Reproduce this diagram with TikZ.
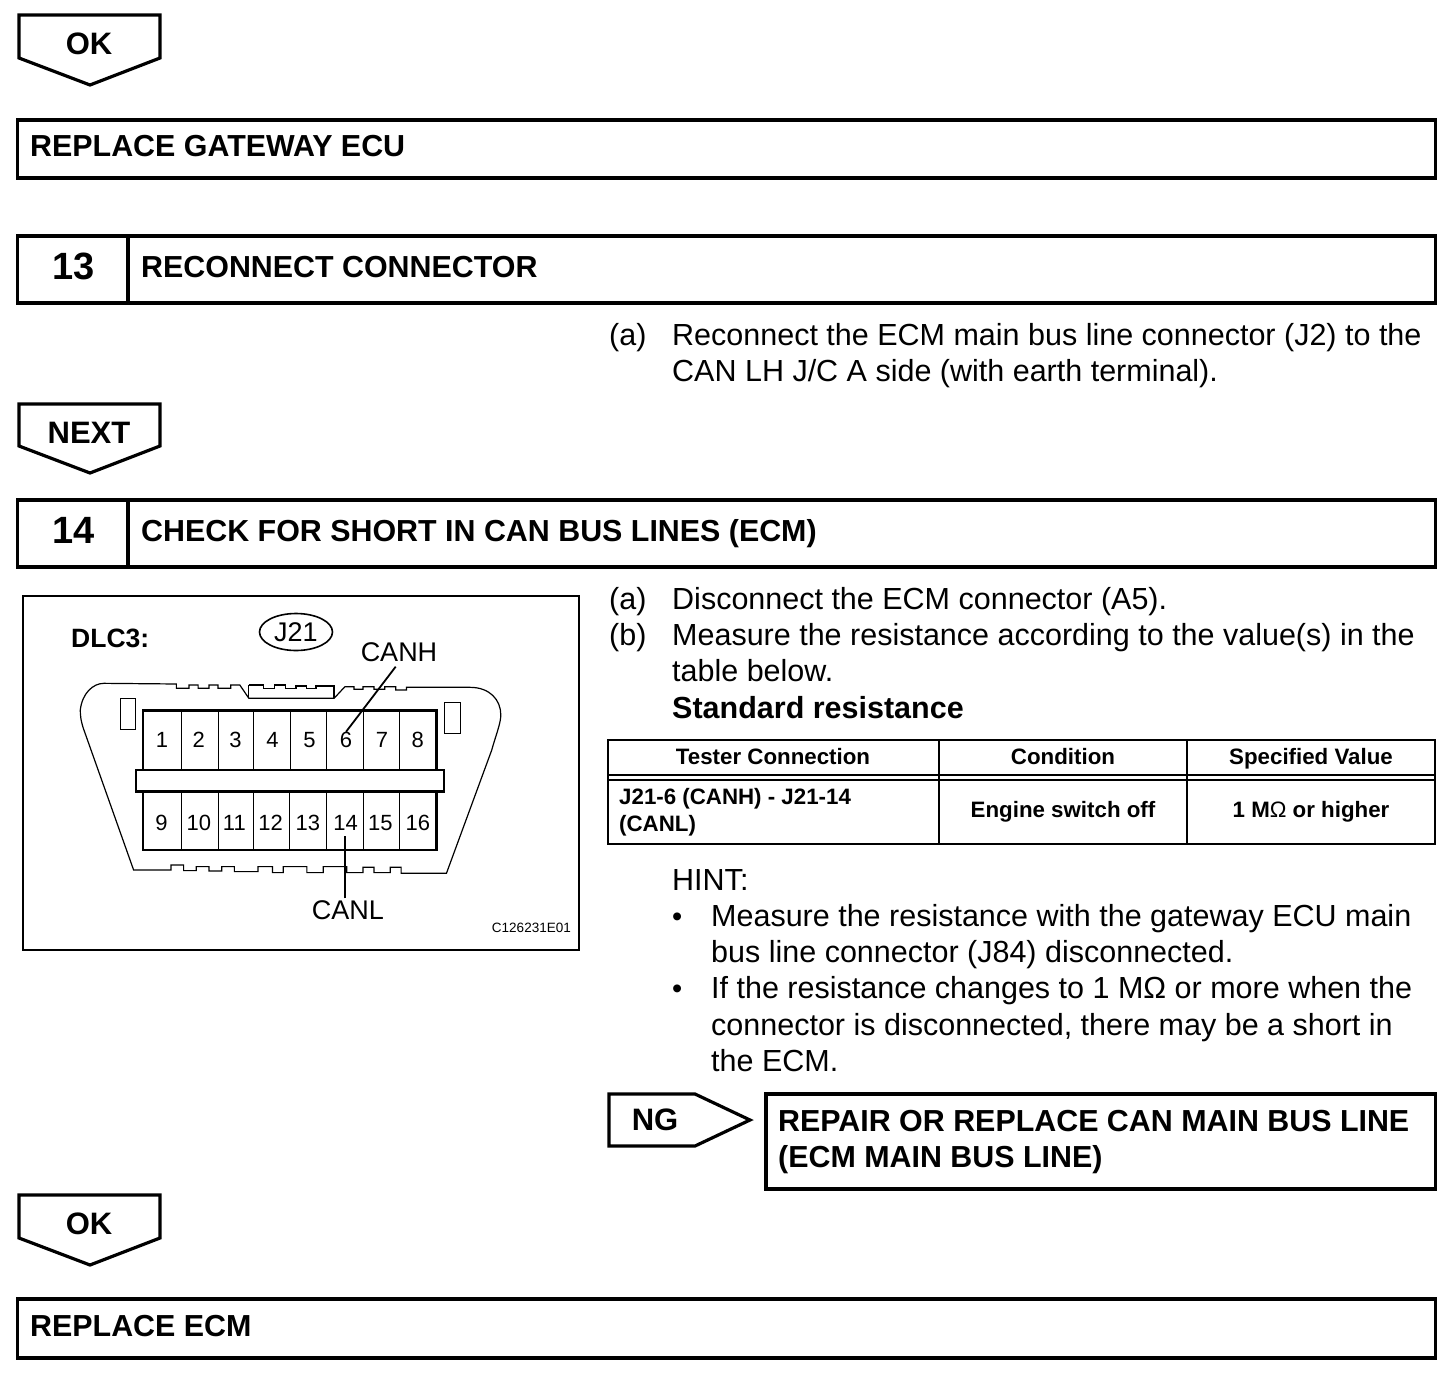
\documentclass[tikz,border=0pt]{standalone}
\usepackage{fontspec}
\setmainfont{Liberation Sans}
\usetikzlibrary{shapes.geometric}
\newcommand{\fsz}[1]{\fontsize{#1}{#1}\selectfont}
\tikzset{
  box/.style={draw=black,line width=3.2pt,fill=white},
  thin box/.style={draw=black,line width=2pt},
  title/.style={anchor=base west,inner sep=0pt,font=\fsz{30.4}\bfseries},
  body/.style={anchor=base west,inner sep=0pt,font=\fsz{30.5}},
  cell/.style={anchor=base,inner sep=0pt,font=\fsz{22.3}\bfseries},
  pinlabel/.style={inner sep=0pt,font=\fsz{22},text height=16pt,text depth=0pt},
  shell/.style={draw=black,line width=1.2pt},
  pin/.style={draw=black,line width=1pt},
  pinedge/.style={draw=black,line width=2.4pt}
}
\begin{document}
\begin{tikzpicture}[x=1pt,y=-1pt,line join=miter]
\useasboundingbox (0,0) rectangle (1456,1376);
% arrows
\draw[box] (19,15) -- (160,15) -- (160,58) -- (90,85) -- (19,58) -- cycle;
\node[anchor=base,inner sep=0pt,font=\fsz{31}\bfseries] (ok1) at (89,54) {OK};
\draw[box] (19,404) -- (160,404) -- (160,446) -- (90,473) -- (19,446) -- cycle;
\node[anchor=base,inner sep=0pt,font=\fsz{31}\bfseries] (next) at (89,443) {NEXT};
\draw[box] (19,1195) -- (160,1195) -- (160,1238) -- (90,1265) -- (19,1238) -- cycle;
\node[anchor=base,inner sep=0pt,font=\fsz{31}\bfseries] (ok2) at (89,1234) {OK};
% bars
\draw[box] (17.5,120) rectangle (1435.5,178);
\node[title] (t1) at (30,156) {REPLACE GATEWAY ECU};
\draw[box] (17.5,236) rectangle (1435.5,303);
\draw[box] (128,236) -- (128,303);
\node[anchor=base,inner sep=0pt,font=\fsz{38}\bfseries] (n13) at (74,279) {13};
\node[title] (t13) at (141,277) {RECONNECT CONNECTOR};
\draw[box] (17.5,500) rectangle (1435.5,567);
\draw[box] (128,500) -- (128,567);
\node[anchor=base,inner sep=0pt,font=\fsz{38}\bfseries] (n14) at (74,543) {14};
\node[title] (t14) at (141,541) {CHECK FOR SHORT IN CAN BUS LINES (ECM)};
\draw[box] (17.5,1299) rectangle (1435.5,1358);
\node[title] (t2) at (30,1336) {REPLACE ECM};
% body text
\node[body] (a1) at (609,345) {(a)};
\node[body] (a1t) at (672,345) {Reconnect the ECM main bus line connector (J2) to the};
\node[body] (a1u) at (672,381) {CAN LH J/C A side (with earth terminal).};
\node[body] (a2) at (609,609) {(a)};
\node[body] (a2t) at (672,609) {Disconnect the ECM connector (A5).};
\node[body] (b2) at (609,645) {(b)};
\node[body] (b2t) at (672,645) {Measure the resistance according to the value(s) in the};
\node[body] (b2u) at (672,681) {table below.};
\node[body,font=\fsz{30.5}\bfseries] (std) at (672,718) {Standard resistance};
% table
\draw[thin box] (608,740) rectangle (1435,844);
\draw[draw=black,line width=2pt] (608,775) -- (1435,775);
\draw[draw=black,line width=2pt] (608,780) -- (1435,780);
\draw[thin box] (939,740) -- (939,844);
\draw[thin box] (1187,740) -- (1187,844);
\node[cell] (h1) at (773,764) {Tester Connection};
\node[cell] (h2) at (1063,764) {Condition};
\node[cell] (h3) at (1311,764) {Specified Value};
\node[cell,anchor=base west] (c1) at (619,804) {J21-6 (CANH) - J21-14};
\node[cell,anchor=base west] (c1b) at (619,831) {(CANL)};
\node[cell] (c2) at (1063,817) {Engine switch off};
\node[cell] (c3) at (1311,817) {1 M{\mdseries Ω} or higher};
% hint
\node[body] (hint) at (672,890) {HINT:};
\node[body,font=\fsz{29}] (bu1) at (672,926) {•};
\node[body] (l1) at (711,926) {Measure the resistance with the gateway ECU main};
\node[body] (l2) at (711,962) {bus line connector (J84) disconnected.};
\node[body,font=\fsz{29}] (bu2) at (672,998) {•};
\node[body] (l3) at (711,998) {If the resistance changes to 1 MΩ or more when the};
\node[body] (l4) at (711,1035) {connector is disconnected, there may be a short in};
\node[body] (l5) at (711,1071) {the ECM.};
% NG
\draw[box] (609,1094) -- (695,1094) -- (750,1120) -- (695,1146) -- (609,1146) -- cycle;
\node[anchor=base,inner sep=0pt,font=\fsz{31}\bfseries] (ng) at (655,1130) {NG};
\draw[box] (766,1094) rectangle (1435.5,1189);
\node[title] (r1) at (778,1131) {REPAIR OR REPLACE CAN MAIN BUS LINE};
\node[title] (r2) at (778,1167) {(ECM MAIN BUS LINE)};
% figure
\draw[thin box] (23,596) rectangle (579,950);
\node[anchor=base west,inner sep=0pt,font=\fsz{26.5}\bfseries] (dlc) at (71,647) {DLC3:};
\node[ellipse,draw=black,line width=1.6pt,minimum width=73pt,minimum height=37pt,inner sep=0pt] (j21e) at (296,632) {};
\node[inner sep=0pt,font=\fsz{27}] (j21) at (296,632) {J21};
\node[inner sep=0pt,font=\fsz{27}] (canh) at (399,652) {CANH};
\node[inner sep=0pt,font=\fsz{27}] (canl) at (348,910) {CANL};
\node[anchor=east,inner sep=0pt,font=\fsz{13.5}] (code) at (571,928) {C126231E01};
\begin{scope}[shift={(20.5,590)},x=0.3625pt,y=-0.3333pt]
  \draw[shell] (230,280) -- (430,282) -- (430,295) -- (465,295) -- (465,285) -- (490,285) -- (490,295) -- (520,295) -- (520,285) -- (545,285) -- (545,295) -- (580,295) -- (580,285) -- (605,285) -- (630,325) -- (865,325) -- (895,290) -- (920,290) -- (920,298) -- (945,298) -- (945,290) -- (975,290) -- (975,298) -- (1005,298) -- (1005,290) -- (1035,290) -- (1035,300) -- (1065,300) -- (1065,292) -- (1240,292) .. controls (1295,292) and (1325,330) .. (1325,375) .. controls (1325,400) and (1310,440) .. (1300,480) -- (1175,850) -- (1080,850) -- (1050,850) -- (1050,832) -- (1020,832) -- (1020,848) -- (1005,848) -- (975,848) -- (975,832) -- (945,832) -- (945,848) -- (900,848) -- (900,830) -- (835,830) -- (835,848) -- (790,848) -- (790,830) -- (725,830) -- (725,848) -- (695,848) -- (695,830) -- (655,830) -- (655,845) -- (590,845) -- (590,830) -- (555,830) -- (555,843) -- (520,843) -- (520,830) -- (485,830) -- (485,842) -- (450,842) -- (450,825) -- (415,825) -- (415,840) -- (312,840) -- (175,420) .. controls (165,390) and (165,370) .. (165,360) .. controls (170,310) and (200,280) .. (230,280) -- cycle;
  \draw[shell] (630,285) -- (630,325);
  \draw[shell] (630,285) -- (670,285) -- (670,295) -- (700,295) -- (700,285) -- (730,285) -- (730,295) -- (760,295) -- (760,288) -- (790,288) -- (790,295) -- (815,295) -- (815,288) -- (865,288) -- (865,325);
  \draw[line width=1pt] (275,327) rectangle (317,420);
  \draw[line width=1pt] (1170,338) rectangle (1215,432);
  \draw[pin,fill=white] (338,362) rectangle (1148,780);
  \foreach \xx in {445,547,643,745,843,945,1045} \draw[pin] (\xx,362) -- (\xx,540);
  \foreach \xx in {443,545,643,743,843,945,1045} \draw[pin] (\xx,605) -- (\xx,780);
  \draw[pinedge] (338,362) rectangle (1148,780);
  \draw[pinedge,fill=white] (318,540) rectangle (1168,605);
  \node[pinlabel] (p1) at (390,450) {1};
  \node[pinlabel] (p2) at (492,450) {2};
  \node[pinlabel] (p3) at (593,450) {3};
  \node[pinlabel] (p4) at (695,450) {4};
  \node[pinlabel] (p5) at (797,450) {5};
  \node[pinlabel] (p6) at (898,450) {6};
  \node[pinlabel] (p7) at (997,450) {7};
  \node[pinlabel] (p8) at (1096,450) {8};
  \node[pinlabel] (p9) at (389,697) {9};
  \node[pinlabel] (p10) at (492,697) {10};
  \node[pinlabel] (p11) at (590,697) {11};
  \node[pinlabel] (p12) at (690,697) {12};
  \node[pinlabel] (p13) at (793,697) {13};
  \node[pinlabel] (p14) at (897,697) {14};
  \node[pinlabel] (p15) at (993,697) {15};
  \node[pinlabel] (p16) at (1096,697) {16};
  \coordinate (hs) at (1035,230);
  \coordinate (ls) at (895,925);
  \draw[draw=black,line width=1.8pt] (hs) -- (p6.north);
  \draw[draw=black,line width=1.8pt] (ls) -- (895,738);
\end{scope}
\end{tikzpicture}
\end{document}
